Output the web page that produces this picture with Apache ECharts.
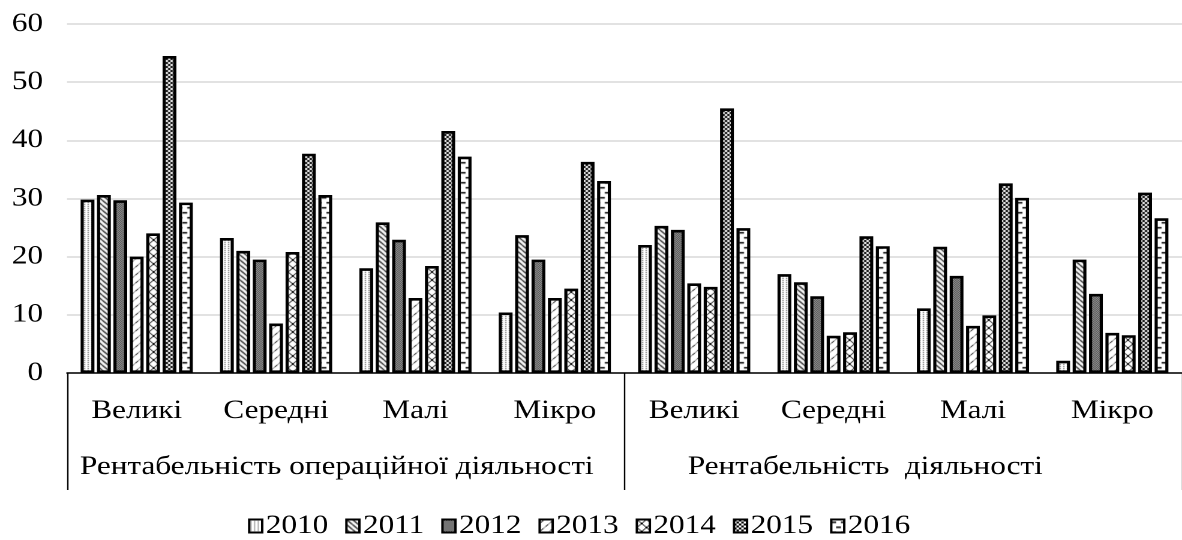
<!DOCTYPE html>
<html>
<head>
<meta charset="utf-8">
<script src="https://cdn.jsdelivr.net/npm/echarts@6/dist/echarts.min.js"></script>
<style>
  html, body { margin: 0; padding: 0; background: #fff; overflow: hidden; }
  #chart { height: 540px; transform-origin: 0 0; }
</style>
</head>
<body>
<div id="chart"></div>
<script>
// Categories: enterprise size within each profitability measure
const categories = ['Великі', 'Середні', 'Малі', 'Мікро', 'Великі', 'Середні', 'Малі', 'Мікро'];
const groupLabels = ['Рентабельність операційної діяльності', 'Рентабельність  діяльності'];
const years = ['2010', '2011', '2012', '2013', '2014', '2015', '2016'];

// Profitability, % (one array per year, in category order)
const v2010 = [29.8, 23.2, 18.0, 10.4, 22.0, 17.0, 11.1, 2.1];
const v2011 = [30.6, 21.0, 25.9, 23.7, 25.3, 15.6, 21.7, 19.5];
const v2012 = [29.7, 19.5, 22.9, 19.5, 24.6, 13.2, 16.7, 13.6];
const v2013 = [20.0, 8.5, 12.9, 12.9, 15.4, 6.4, 8.1, 6.9];
const v2014 = [24.0, 20.8, 18.4, 14.5, 14.8, 7.0, 9.9, 6.5];
const v2015 = [54.5, 37.7, 41.6, 36.3, 45.5, 23.5, 32.6, 31.0];
const v2016 = [29.3, 30.6, 37.2, 33.0, 24.9, 21.8, 30.1, 26.6];
const yearValues = [v2010, v2011, v2012, v2013, v2014, v2015, v2016];

// Value axis ticks
const yMin = 0, yMax = 60, yStep = 10;

// The drawing is laid out narrower and widened horizontally (serif text looks wide)
const S = 1.2;
const W = 1182 / S;
const FONT = "'Liberation Serif', 'Times New Roman', Times, serif";
const FS = 26;

const el = document.getElementById('chart');
el.style.width = W + 'px';
el.style.transform = 'scaleX(' + S + ')';

// Monochrome fill patterns, one per year
function tile(w, h, paint) {
  const c = document.createElement('canvas');
  c.width = w; c.height = h;
  const g = c.getContext('2d');
  g.fillStyle = '#fff';
  g.fillRect(0, 0, w, h);
  paint(g);
  return c;
}
const patterns = [
  // fine light dots
  tile(3, 2, g => { g.fillStyle = '#555'; g.fillRect(1, 0, 1, 1); }),
  // downward diagonals
  tile(5, 5, g => {
    g.strokeStyle = '#000'; g.lineWidth = 1.1; g.beginPath();
    for (let k = -5; k <= 5; k += 5) { g.moveTo(k, 0); g.lineTo(k + 5, 5); }
    g.stroke();
  }),
  // dense dark dots
  tile(2, 2, g => { g.fillStyle = '#bdbdbd'; g.fillRect(0, 0, 2, 2); g.fillStyle = '#2a2a2a'; g.fillRect(0, 0, 1, 1); g.fillRect(1, 1, 1, 1); }),
  // short slashes
  tile(8, 8, g => {
    g.strokeStyle = '#000'; g.lineWidth = 1; g.beginPath();
    g.moveTo(0.5, 3.5); g.lineTo(3.5, 0.5);
    g.moveTo(4.5, 7.5); g.lineTo(7.5, 4.5);
    g.stroke();
  }),
  // diagonal cross-hatch
  tile(8, 8, g => {
    g.strokeStyle = '#000'; g.lineWidth = 1; g.beginPath();
    g.moveTo(0, 0); g.lineTo(8, 8);
    g.moveTo(0, 8); g.lineTo(8, 0);
    g.stroke();
  }),
  // checkerboard
  tile(4, 4, g => { g.fillStyle = '#000'; g.fillRect(0, 0, 2, 2); g.fillRect(2, 2, 2, 2); }),
  // staggered horizontal dashes
  tile(8, 10, g => { g.fillStyle = '#000'; g.fillRect(0, 2, 4, 1.5); g.fillRect(4, 7, 4, 1.5); })
];

// Bar border is kept inside the bar width by ECharts
const BORDER = 2.6;
const barW = 13.8 / S;
const pitch = 16.4 / S;
const barGap = ((pitch - barW) / barW * 100).toFixed(1) + '%';

const series = years.map((y, i) => ({
  name: y,
  type: 'bar',
  data: yearValues[i],
  barWidth: barW,
  barGap: barGap,
  itemStyle: {
    color: { image: patterns[i], repeat: 'repeat' },
    borderColor: '#000',
    borderWidth: BORDER
  },
  emphasis: { disabled: true }
}));

const txt = { fontFamily: FONT, fontSize: FS, color: '#000' };

const chart = echarts.init(el, null, { renderer: 'canvas', devicePixelRatio: 2 });
chart.setOption({
  animation: false,
  backgroundColor: '#fff',
  textStyle: { fontFamily: FONT },
  grid: { left: 67 / S, top: 24, width: 1124 / S, height: 349, containLabel: false },
  legend: {
    data: years,
    left: 242 / S,
    top: 508,
    icon: 'rect',
    itemWidth: 13 / S,
    itemHeight: 13,
    itemGap: 17 / S,
    textStyle: Object.assign({}, txt, { padding: [0, 0, 0, -2] }),
    itemStyle: { borderColor: '#000', borderWidth: 2 }
  },
  xAxis: [
    {
      type: 'category',
      data: categories,
      position: 'bottom',
      axisLine: { lineStyle: { color: '#000', width: 1.5 } },
      axisTick: { show: false },
      axisLabel: Object.assign({ interval: 0, margin: 25 }, txt),
      splitLine: { show: false }
    },
    {
      type: 'category',
      data: groupLabels,
      position: 'bottom',
      axisLine: { show: false },
      axisTick: { show: true, length: 117, lineStyle: { color: '#000', width: 1.2 } },
      axisLabel: {
        interval: 0,
        margin: 81,
        formatter: (val, idx) => (idx === 0 ? '{a|' : '{b|') + val + '}',
        rich: {
          a: Object.assign({ padding: [0, 18 / S, 0, 0] }, txt),
          b: Object.assign({ padding: [0, 76 / S, 0, 0] }, txt)
        }
      },
      splitLine: { show: false }
    }
  ],
  yAxis: {
    type: 'value',
    min: yMin,
    max: yMax,
    interval: yStep,
    axisLine: { show: false },
    axisTick: { show: false },
    axisLabel: Object.assign({ margin: 24 / S }, txt),
    splitLine: { lineStyle: { color: '#d9d9d9', width: 1.5 } }
  },
  series: series
});
</script>
</body>
</html>
